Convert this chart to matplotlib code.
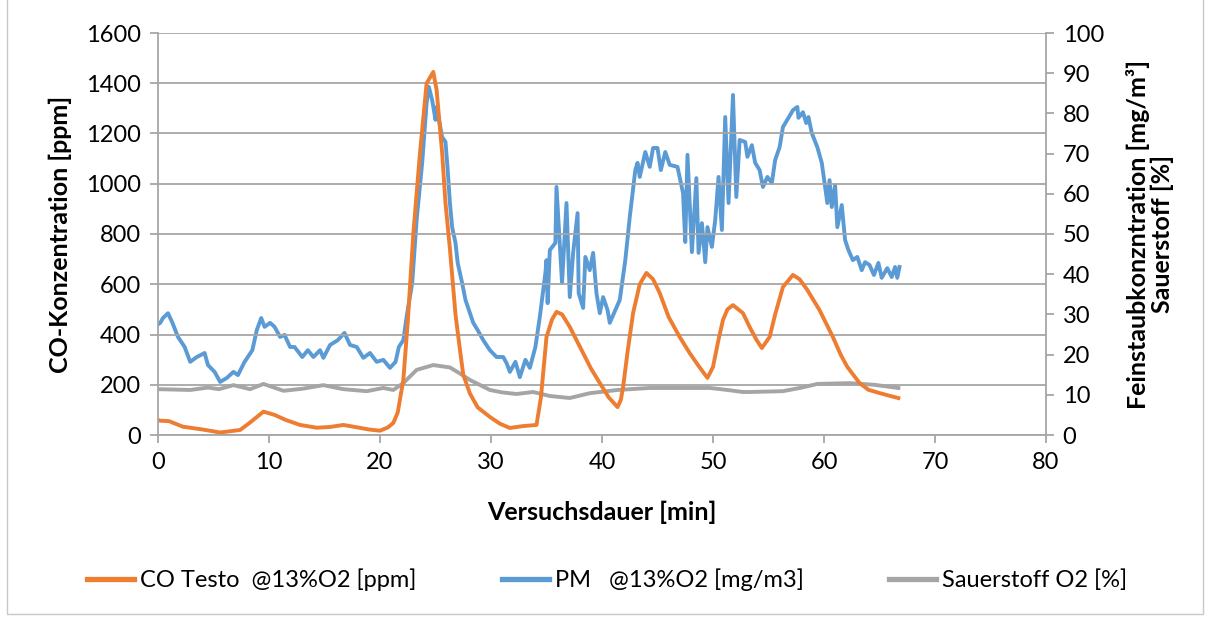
import matplotlib
matplotlib.use("Agg")
import matplotlib.pyplot as plt
from matplotlib.lines import Line2D
from matplotlib.patches import Rectangle

plt.rcParams["font.family"] = ["Lato", "DejaVu Sans"]

# CO Testo @13%O2 [ppm] (left axis)
co_t = [0.0, 0.2, 1.0, 2.25, 4.0, 5.6, 6.5, 7.4, 8.3, 9.5, 10.5, 11.5, 12.8, 14.3, 15.5,
        16.7, 18.0, 19.0, 20.0, 20.7, 21.2, 21.6, 22.1, 22.5, 23.0, 23.6, 24.2, 24.8, 25.1,
        25.6, 25.9, 26.3, 26.8, 27.2, 27.5, 28.1, 28.8, 29.9, 30.8, 31.7, 32.8, 34.1, 34.5,
        35.0, 35.5, 35.9, 36.4, 37.1, 38.3, 39.0, 39.8, 40.6, 41.4, 41.7, 41.9, 42.3, 42.8,
        43.4, 44.0, 44.6, 45.2, 46.0, 47.0, 47.9, 48.7, 49.5, 50.0, 50.5, 50.9, 51.3, 51.8,
        52.7, 53.3, 53.9, 54.4, 55.1, 55.6, 56.3, 57.2, 57.8, 58.5, 59.6, 60.8, 61.5, 62.1,
        63.2, 64.0, 65.0, 66.0, 66.7]
co_v = [60, 57, 55, 33, 22, 10, 15, 20, 50, 93, 80, 60, 40, 29, 32,
        40, 30, 22, 17, 30, 48, 90, 219, 450, 800, 1122, 1400, 1445, 1373,
        1122, 923, 740, 480, 340, 240, 165, 110, 72, 45, 28, 35, 40, 150,
        390, 460, 490, 480, 430, 326, 265, 207, 150, 111, 140, 191, 330, 485,
        600, 645, 620, 565, 470, 390, 326, 275, 227, 271, 380, 458, 500, 517,
        485, 430, 380, 346, 390, 480, 589, 637, 620, 577, 497, 390, 320, 271,
        207, 180, 167, 155, 147]

# PM @13%O2 [mg/m3] (right axis)
pm_t = [0.0, 0.2, 0.45, 0.9, 1.3, 1.8, 2.4, 2.9, 3.5, 4.2, 4.5, 5.1, 5.6, 6.2, 6.8,
        7.2, 7.8, 8.5, 8.9, 9.3, 9.6, 10.1, 10.5, 11.0, 11.4, 11.9, 12.3, 13.0, 13.5,
        14.0, 14.6, 14.9, 15.5, 16.2, 16.8, 17.3, 17.9, 18.5, 19.1, 19.7, 20.3, 20.9,
        21.4, 21.7, 22.1, 22.4, 22.9, 23.3, 23.8, 24.2, 24.4, 24.7, 25.0, 25.1, 25.6,
        25.9, 26.1, 26.3, 26.5, 26.8, 27.0, 27.4, 27.7, 28.1, 28.4, 28.8, 29.3, 29.9,
        30.5, 31.1, 31.4, 31.7, 32.2, 32.6, 33.1, 33.5, 34.0, 34.4, 34.9, 35.0, 35.1,
        35.3, 35.8, 35.9, 36.4, 36.8, 37.1, 37.4, 37.8, 37.9, 38.3, 38.5, 38.9, 39.2,
        39.5, 39.8, 40.1, 40.5, 40.7, 41.2, 41.6, 42.1, 42.5, 43.0, 43.2, 43.4, 43.9,
        44.3, 44.6, 45.0, 45.3, 45.7, 46.1, 46.8, 47.3, 47.5, 47.7, 48.1, 48.5, 48.7,
        49.0, 49.3, 49.5, 49.9, 50.2, 50.5, 50.8, 51.1, 51.4, 51.8, 52.1, 52.4, 52.9,
        53.1, 53.5, 53.8, 54.2, 54.5, 54.9, 55.3, 55.6, 56.0, 56.3, 56.8, 57.2, 57.6,
        57.7, 58.1, 58.4, 58.6, 58.9, 59.4, 59.8, 60.1, 60.3, 60.5, 60.7, 61.0, 61.2,
        61.6, 61.9, 62.2, 62.6, 63.0, 63.4, 63.7, 64.1, 64.5, 64.9, 65.2, 65.7, 66.1,
        66.4, 66.6, 66.8]
pm_v = [27.5, 27.9, 29.1, 30.3, 27.9, 24.4, 21.9, 18.2, 19.4, 20.4, 17.4, 15.7, 13.2, 14.2, 15.7,
        14.9, 18.2, 21.1, 26.1, 29.1, 26.9, 27.9, 26.9, 24.4, 24.9, 21.9, 21.9, 19.4, 21.1,
        19.4, 21.1, 19.2, 22.4, 23.6, 25.4, 22.4, 21.9, 19.2, 20.4, 18.2, 18.7, 16.7,
        18.2, 21.9, 23.6, 29.4, 37.8, 53.5, 67.7, 82.6, 86.6, 83.3, 78.4, 81.6, 74.1,
        72.9, 65.9, 57.7, 51.7, 47.8, 42.8, 37.8, 33.6, 30.3, 27.9, 26.1, 23.6, 21.1,
        19.4, 19.4, 17.9, 15.7, 18.2, 14.4, 18.7, 16.7, 21.9, 29.4, 40.3, 43.5, 32.8,
        46.0, 47.8, 61.7, 37.8, 57.7, 34.3, 45.3, 55.2, 35.3, 31.6, 44.3, 41.0, 45.3,
        35.3, 30.3, 34.3, 31.1, 27.9, 31.1, 33.6, 43.5, 54.2, 65.9, 67.7, 64.2, 70.4,
        66.7, 71.4, 71.4, 65.9, 70.4, 67.2, 66.7, 60.2, 48.0, 69.7, 45.5, 63.9, 45.3,
        52.7, 43.0, 51.7, 46.8, 53.5, 64.2, 51.0, 79.1, 57.7, 84.6, 59.2, 73.4, 72.9,
        69.2, 72.1, 67.7, 65.9, 61.7, 64.2, 62.7, 68.4, 71.6, 76.6, 78.9, 80.8, 81.6,
        78.9, 80.3, 77.6, 79.1, 75.1, 71.6, 67.7, 61.7, 57.7, 63.4, 56.7, 62.2, 51.7,
        57.2, 48.5, 46.0, 43.5, 44.3, 41.0, 43.0, 42.3, 39.8, 42.8, 39.1, 41.5, 39.3,
        41.8, 39.1, 41.8]

# Sauerstoff O2 [%] (right axis)
o2_t = [0.0, 1.5, 2.9, 4.5, 5.5, 6.8, 8.3, 9.5, 11.3, 13.0, 14.9, 16.7, 18.8, 20.3,
        21.2, 22.1, 23.3, 24.8, 26.3, 27.2, 28.1, 29.9, 31.0, 32.3, 33.8, 35.3, 37.1,
        38.9, 41.4, 44.3, 47.3, 49.7, 51.0, 52.7, 53.3, 56.3, 58.0, 59.4, 62.3, 64.5, 66.7]
o2_v = [11.4, 11.3, 11.2, 11.8, 11.4, 12.4, 11.4, 12.7, 11.0, 11.5, 12.4, 11.4, 10.9, 11.7,
        11.2, 12.9, 16.2, 17.4, 16.8, 15.3, 13.7, 11.2, 10.6, 10.2, 10.7, 9.7, 9.2,
        10.4, 11.2, 11.7, 11.7, 11.7, 11.3, 10.7, 10.7, 10.9, 11.8, 12.7, 12.9, 12.5, 11.7]

labels = ["CO Testo  @13%O2 [ppm]", "PM   @13%O2 [mg/m3]", "Sauerstoff O2 [%]"]
colors = ["#ED7D31", "#5B9BD5", "#A5A5A5"]
grid_c = "#A6A6A6"

fig = plt.figure(figsize=(12.14, 6.2), dpi=100)
fig.patches.append(Rectangle((7 / 1214, 6 / 620), 1196 / 1214, 620 / 620, transform=fig.transFigure,
                             fill=False, edgecolor="#C8C8C8", linewidth=1))
ax = fig.add_axes([158 / 1214, 1 - 435 / 620, (1046 - 158) / 1214, (435 - 33) / 620])
ax2 = ax.twinx()

ax.set_xlim(0, 80)
ax.set_ylim(0, 1600)
ax2.set_ylim(0, 100)
ax.set_xticks(range(0, 81, 10))
ax.set_yticks(range(0, 1601, 200))
ax2.set_yticks(range(0, 101, 10))
ax.grid(axis="y", color=grid_c, linewidth=1.3)
ax.set_axisbelow(True)

for a in (ax, ax2):
    a.spines["top"].set_visible(False)
    for s in ("left", "right", "bottom"):
        a.spines[s].set_color(grid_c)
        a.spines[s].set_linewidth(1.3)
    a.tick_params(colors=grid_c, labelcolor="black", labelsize=17, width=1.3, length=6, pad=6)
ax.spines["right"].set_visible(False)
ax2.spines["left"].set_visible(False)
ax2.spines["bottom"].set_visible(False)

lw = 2.8
ax2.plot(o2_t, o2_v, color=colors[2], lw=lw, solid_joinstyle="round")
ax2.plot(pm_t, pm_v, color=colors[1], lw=lw, solid_joinstyle="round")
ax.set_zorder(ax2.get_zorder() + 1)
ax.patch.set_visible(False)
ax.plot(co_t, co_v, color=colors[0], lw=lw, solid_joinstyle="round")

ax.set_xlabel("Versuchsdauer [min]", fontsize=18, fontweight="bold", labelpad=20)
ax.set_ylabel("CO-Konzentration [ppm]", fontsize=18, fontweight="bold", labelpad=10)
ax2.set_ylabel("Feinstaubkonzntration [mg/m³]\nSauerstoff [%]", fontsize=18,
               fontweight="bold", labelpad=16, linespacing=1.05)

handles = [Line2D([], [], color=c, lw=3.8) for c in colors]
fig.legend(handles, labels, loc="center", bbox_to_anchor=(0.5, 1 - 580 / 620), ncol=3,
           frameon=False, fontsize=17, handlelength=2.0, handletextpad=0.25, columnspacing=3.6)

fig.savefig("out.png", dpi=100)
